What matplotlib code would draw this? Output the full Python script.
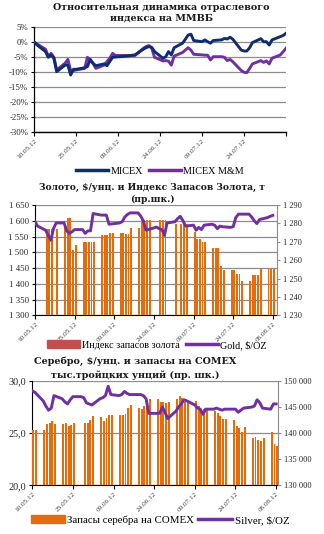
import numpy as np
import matplotlib
matplotlib.use("Agg")
import matplotlib.pyplot as plt
import matplotlib.dates as mdates
from matplotlib.lines import Line2D
from matplotlib.patches import Patch
from matplotlib.ticker import FuncFormatter

# ---------------- data ----------------
START = np.datetime64('2012-05-10')
tick_labels = ['10.05.12', '25.05.12', '09.06.12', '24.06.12', '09.07.12', '24.07.12', '08.08.12']
tick_days = [0, 15, 30, 45, 60, 75, 90]

# Chart 1: relative dynamics, %
micex_days = [0, 1, 4, 5, 6, 7, 8, 11, 12, 13, 14, 15, 18, 19, 20, 21, 22, 25, 26, 27, 28, 29,
              32, 34, 35, 36, 39, 40, 41, 42, 43, 46, 47, 48, 49, 50, 53, 54, 55, 56, 57,
              60, 61, 62, 63, 64, 67, 68, 69, 70, 71, 74, 75, 76, 77, 78, 81, 82, 83, 84, 85, 88, 89, 90]
micex_vals = [0.0, -0.9, -3.1, -5.0, -4.2, -5.3, -9.8, -7.6, -7.6, -10.9, -9.0, -9.0, -8.5, -8.1, -5.7, -7.0, -7.8,
              -7.2, -7.8, -6.4, -5.0, -4.9, -4.7, -4.5, -4.3, -4.2, -2.3, -1.8, -1.4, -1.7, -3.1,
              -5.3, -4.8, -3.1, -4.2, -1.8, -0.3, 1.0, 2.4, 2.7, 0.6, 0.2, 0.8, 0.2, -0.3, 0.6,
              0.8, 1.3, 1.1, 1.7, 1.0, -2.6, -2.9, -2.9, -1.8, -0.1, 1.2, 0.2, 0.2, -0.9, 0.8, 1.9, 2.3, 3.0]
mm_days = micex_days
mm_vals = [0.0, -0.6, -2.3, -4.6, -3.7, -5.0, -9.2, -7.0, -5.7, -9.4, -9.4, -9.2, -8.7, -5.0, -6.0, -7.0, -8.7,
           -7.6, -6.4, -5.3, -3.7, -4.4, -4.4, -4.4, -4.4, -4.4, -2.0, -1.4, -1.1, -2.0, -5.0,
           -6.2, -6.1, -6.3, -7.6, -4.6, -3.4, -2.6, -1.8, -2.6, -4.0, -4.2, -4.3, -4.3, -5.9, -4.8,
           -4.8, -5.0, -6.1, -5.7, -6.5, -9.4, -10.0, -10.1, -8.7, -7.2, -6.1, -6.7, -6.2, -7.2, -5.3, -4.2, -3.1, -2.0]

# Chart 2: gold price (left) and gold reserves index, t (right)
gold_days = [0, 1, 4, 5, 6, 7, 8, 11, 12, 13, 14, 15, 18, 19, 20, 21, 22, 25, 26, 27, 28, 29,
             32, 33, 34, 35, 36, 39, 40, 41, 42, 43, 46, 47, 48, 49, 50, 53, 54, 55, 56, 57,
             60, 61, 62, 63, 64, 67, 68, 69, 70, 71, 74, 75, 76, 77, 78, 81, 82, 83, 84, 85, 88, 89, 90]
gold_vals = [1597, 1583, 1570, 1554, 1538, 1575, 1593, 1593, 1568, 1560, 1565, 1572, 1572, 1560, 1568, 1568, 1623,
             1618, 1618, 1618, 1589, 1590, 1593, 1597, 1612, 1620, 1625, 1625, 1615, 1600, 1570, 1572,
             1580, 1575, 1572, 1554, 1593, 1597, 1607, 1614, 1600, 1583, 1586, 1570, 1579, 1572, 1586,
             1589, 1586, 1575, 1583, 1581, 1579, 1581, 1610, 1621, 1621, 1621, 1612, 1600, 1591, 1604, 1610, 1614, 1617]
gres_days = [4, 5, 6, 8, 11, 12, 13, 14, 15, 18, 19, 20, 21, 22, 25, 26, 27, 28, 29, 32, 33, 34, 35, 36,
             39, 40, 41, 42, 43, 47, 48, 49, 53, 55, 56, 57, 60, 61, 62, 63, 64, 67, 68, 69, 70, 71,
             74, 75, 76, 77, 78, 81, 82, 83, 84, 85, 88, 89, 90]
gres_vals = [1276.8, 1276.8, 1276.8, 1276.8, 1278.5, 1282.8, 1282.8, 1265.4, 1268.1, 1269.8, 1269.8, 1269.8, 1269.8, 1269.8,
             1273.6, 1273.6, 1273.6, 1274.7, 1274.7, 1274.7, 1274.7, 1274.1, 1274.1, 1277.4,
             1277.4, 1281.8, 1281.8, 1281.8, 1281.8, 1281.8, 1281.8, 1281.8, 1279.6, 1279.6, 1279.6, 1279.6,
             1275.2, 1271.4, 1271.4, 1269.8, 1269.8, 1266.5, 1266.5, 1266.5, 1256.7, 1254.5,
             1254.5, 1254.5, 1252.3, 1252.3, 1248.5, 1248.5, 1251.8, 1251.8, 1251.8, 1255.1, 1255.1, 1255.1, 1255.1]

# Chart 3: silver price (left) and COMEX silver stocks, thousand oz (right)
silver_days = gold_days
silver_vals = [29.07, 28.9, 28.1, 27.6, 27.2, 27.4, 28.6, 28.3, 28.0, 27.8, 28.2, 28.5, 28.5, 28.4, 27.9, 27.8, 27.7,
               28.3, 28.4, 28.6, 29.5, 28.7, 28.6, 28.7, 29.0, 28.8, 28.7, 28.7, 28.7, 28.6, 28.3, 26.9,
               26.9, 26.9, 27.5, 27.0, 26.4, 27.1, 27.5, 27.8, 28.2, 28.1, 27.7, 27.4, 27.3, 26.8, 27.3,
               27.3, 27.4, 27.3, 27.2, 27.3, 27.3, 27.3, 27.0, 27.2, 27.4, 27.5, 27.6, 28.2, 27.9, 27.4, 27.3, 27.8, 27.8]
sres_days = [0, 1, 4, 5, 6, 7, 8, 11, 12, 13, 14, 15, 19, 20, 21, 22, 25, 26, 27, 28, 29, 32, 33, 34, 35, 36,
             39, 40, 41, 42, 43, 46, 47, 48, 49, 50, 53, 54, 55, 56, 57, 60, 61, 62, 63, 64,
             67, 68, 69, 70, 71, 74, 75, 76, 77, 78, 81, 82, 83, 84, 85, 88, 89, 90]
sres_vals = [140600, 140600, 140600, 141760, 142010, 142330, 141760, 141760, 141890, 141440, 141570, 141890,
             141890, 141890, 142530, 143360, 143040, 142330, 142840, 143480, 143480, 143480, 143480, 143680,
             144760, 145400, 144890, 144630, 145270, 146360, 146550, 146550, 146040, 146040, 145780, 146040,
             146550, 147130, 146810, 146040, 146040, 146170, 145210, 144570, 144570, 144570,
             144250, 143800, 143360, 142720, 142720, 142520, 141370, 140930, 140290, 141180,
             139140, 139270, 138690, 138500, 139070, 140160, 137920, 137600]

# ---------------- style ----------------
W, H = 324, 534
NAVY = '#0F2D6E'
PURPLE = '#7030A0'
ORANGE = '#E46C0A'
LEGRED = '#C0504D'
GRID = '#8C8C8C'
TXT = '#262626'
SERIF = ['Liberation Serif', 'DejaVu Serif']
TITLEF = ['DejaVu Serif']

plt.rcParams['font.family'] = SERIF
plt.rcParams['axes.unicode_minus'] = False

fig = plt.figure(figsize=(W / 100, H / 100), dpi=100)
fig.patch.set_facecolor('white')


def rect(l, t, r, b):
    return [l / W, 1 - b / H, (r - l) / W, (b - t) / H]


def to_x(days):
    return mdates.date2num(START + np.array(days, dtype='timedelta64[D]'))


def space_thousands(v, pos=None):
    return '{:,}'.format(int(round(v))).replace(',', ' ')


def setup_xaxis(ax, labels, xmax_pad):
    ax.set_xlim(to_x([0])[0], to_x([0])[0] + xmax_pad)
    ax.set_xticks(to_x(tick_days))
    ax.set_xticklabels(labels, rotation=45, ha='right', va='top', rotation_mode='anchor',
                       fontsize=5.2, color='#404040')
    ax.tick_params(axis='x', direction='out', length=3, width=0.8, pad=1.5, colors='black',
                   labelcolor='#404040')


def title(lines, x, ys, size):
    for line, y in zip(lines, ys):
        fig.text(x / W, 1 - y / H, line, ha='center', va='center', fontsize=size,
                 fontweight='bold', family=TITLEF, color='#1a1a1a')


# ================= Chart 1 =================
title(['Относительная динамика отраслевого', 'индекса на ММВБ'], 161, [7.5, 18.5], 6.9)
ax1 = fig.add_axes(rect(34.3, 27.3, 286, 132.3))
ax1.plot(to_x(micex_days), micex_vals, color=NAVY, lw=2.1, solid_joinstyle='round', zorder=3)
ax1.plot(to_x(mm_days), mm_vals, color=PURPLE, lw=2.1, solid_joinstyle='round', zorder=2)
ax1.set_ylim(-30, 5)
yt = [5, 0, -5, -10, -15, -20, -25, -30]
ax1.set_yticks(yt)
ax1.set_yticklabels(['{}%'.format(v) for v in yt], fontsize=6.3, color=TXT)
ax1.yaxis.grid(True, color=GRID, lw=0.9)
ax1.set_axisbelow(True)
setup_xaxis(ax1, tick_labels[:-1] + [''], 90)
ax1.tick_params(axis='y', direction='out', length=2.5, width=0.8, pad=2)
for s in ['top', 'right']:
    ax1.spines[s].set_visible(False)
ax1.spines['left'].set_color('black')
ax1.spines['bottom'].set_color('black')
ax1.spines['left'].set_linewidth(0.9)
ax1.spines['bottom'].set_linewidth(1.0)

fig.legend(handles=[Line2D([], [], color=NAVY, lw=2.5), Line2D([], [], color=PURPLE, lw=2.5)],
           labels=['MICEX', 'MICEX M&M'], loc='center', bbox_to_anchor=(160 / W, 1 - 171 / H),
           ncol=2, frameon=False, fontsize=7.3, handlelength=3.2, handletextpad=0.2,
           columnspacing=0.6, borderaxespad=0, borderpad=0)

# ================= Chart 2 =================
title(['Золото, $/унц. и Индекс Запасов Золота, т', '(пр.шк.)'], 152, [187.5, 199], 6.6)
r2 = rect(35, 205, 277, 315.3)
axg = fig.add_axes(r2)
axg.set_ylim(1300, 1650)
axg.set_yticks(np.arange(1300, 1651, 50))
axg.yaxis.set_major_formatter(FuncFormatter(space_thousands))
axg.tick_params(axis='y', labelsize=6.3, labelcolor=TXT, direction='out', length=2.5, width=0.8, pad=2)
axg.yaxis.grid(True, color=GRID, lw=0.9)
setup_xaxis(axg, tick_labels, 91.6)
for s in ['top', 'right']:
    axg.spines[s].set_visible(False)

axb = fig.add_axes(r2, sharex=axg)
axb.patch.set_visible(False)
axb.bar(to_x(gres_days) + 0.4, gres_vals, width=0.72, color=ORANGE, linewidth=0)
axb.set_ylim(1230, 1290)
axb.set_yticks(np.arange(1230, 1291, 10))
axb.yaxis.set_major_formatter(FuncFormatter(space_thousands))
axb.yaxis.tick_right()
axb.tick_params(axis='y', labelsize=6.0, labelcolor=TXT, direction='out', length=2.5, width=0.8,
                colors=GRID, pad=2)
axb.tick_params(axis='y', labelcolor=TXT)
axb.xaxis.set_visible(False)
for s in ['top', 'left', 'bottom']:
    axb.spines[s].set_visible(False)
axb.spines['right'].set_color(GRID)

axl = fig.add_axes(r2, sharex=axg, sharey=axg)
axl.patch.set_visible(False)
axl.plot(to_x(gold_days), gold_vals, color=PURPLE, lw=2.1, solid_joinstyle='round')
axl.axis('off')

fig.legend(handles=[Patch(color=LEGRED), Line2D([], [], color=PURPLE, lw=2.5)],
           labels=['Индекс запасов золота', 'Gold, $/OZ'], loc='center',
           bbox_to_anchor=(157 / W, 1 - 345 / H), ncol=2, frameon=False, fontsize=7.3,
           handlelength=3.2, handleheight=0.8, handletextpad=0.2, columnspacing=0.6,
           borderaxespad=0, borderpad=0)

# ================= Chart 3 =================
title(['Серебро, $/унц. и запасы на COMEX', 'тыс.тройцких унций (пр. шк.)'], 135, [361, 375], 6.9)
r3 = rect(32.3, 381, 278, 485.3)
axg3 = fig.add_axes(r3)
axg3.set_ylim(20, 30)
axg3.set_yticks([20, 25, 30])
axg3.set_yticklabels(['20,0', '25,0', '30,0'], fontsize=7.3, color=TXT)
axg3.tick_params(axis='y', direction='out', length=2.5, width=0.8, pad=2)
axg3.yaxis.grid(True, color=GRID, lw=0.9)
setup_xaxis(axg3, tick_labels, 90.7)
for s in ['top', 'right']:
    axg3.spines[s].set_visible(False)

axb3 = fig.add_axes(r3, sharex=axg3)
axb3.patch.set_visible(False)
axb3.bar(to_x(sres_days) + 0.4, sres_vals, width=0.72, color=ORANGE, linewidth=0)
axb3.set_ylim(130000, 150000)
axb3.set_yticks(np.arange(130000, 150001, 5000))
axb3.yaxis.set_major_formatter(FuncFormatter(space_thousands))
axb3.yaxis.tick_right()
axb3.tick_params(axis='y', labelsize=6.0, direction='out', length=2.5, width=0.8, colors=GRID, pad=2)
axb3.tick_params(axis='y', labelcolor=TXT)
axb3.xaxis.set_visible(False)
for s in ['top', 'left', 'bottom']:
    axb3.spines[s].set_visible(False)
axb3.spines['right'].set_color(GRID)

axl3 = fig.add_axes(r3, sharex=axg3, sharey=axg3)
axl3.patch.set_visible(False)
axl3.plot(to_x(silver_days), silver_vals, color=PURPLE, lw=2.1, solid_joinstyle='round')
axl3.axis('off')

fig.legend(handles=[Patch(color=ORANGE), Line2D([], [], color=PURPLE, lw=2.5)],
           labels=['Запасы серебра на COMEX', 'Silver, $/OZ'], loc='center',
           bbox_to_anchor=(160 / W, 1 - 520 / H), ncol=2, frameon=False, fontsize=7.8,
           handlelength=3.2, handleheight=0.8, handletextpad=0.2, columnspacing=0.3,
           borderaxespad=0, borderpad=0)

fig.savefig('out.png', dpi=100, facecolor='white')
